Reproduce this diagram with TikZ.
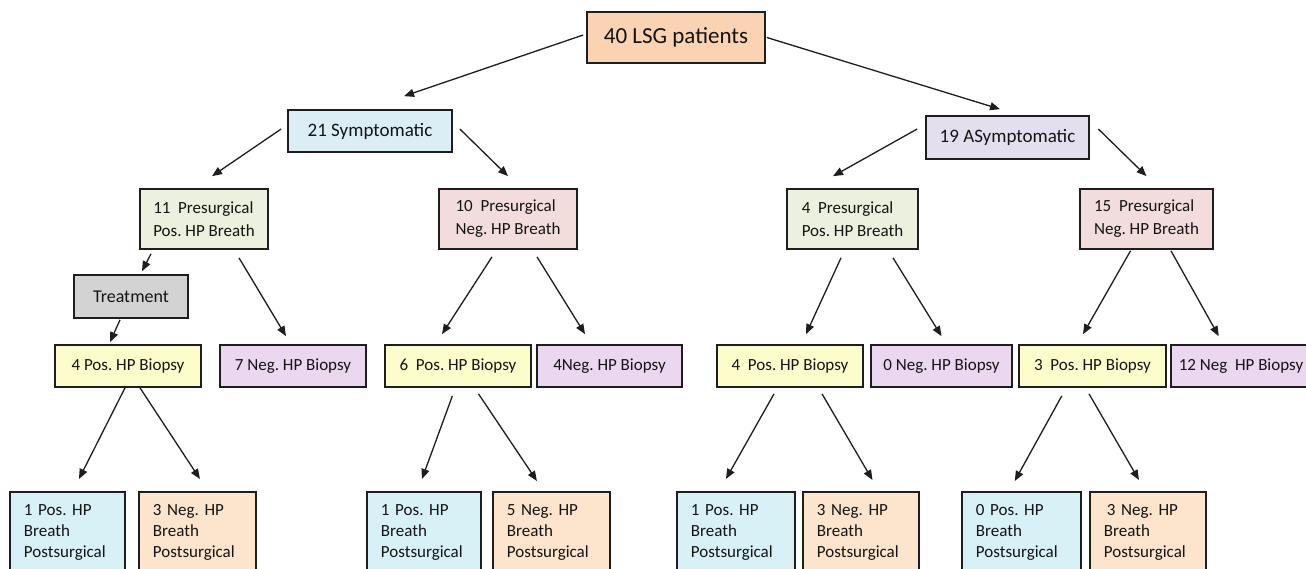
\documentclass[tikz,border=0pt]{standalone}
\usepackage{fontspec}
\setmainfont{Carlito}
\usetikzlibrary{arrows.meta,calc}
\definecolor{cRoot}{HTML}{FAD3B2}
\definecolor{cSym}{HTML}{DCEEF5}
\definecolor{cAsym}{HTML}{E4DFEE}
\definecolor{cPpos}{HTML}{EBF1DE}
\definecolor{cPneg}{HTML}{F2DCDC}
\definecolor{cTreat}{HTML}{D3D3D3}
\definecolor{cBpos}{HTML}{FDFCCB}
\definecolor{cBneg}{HTML}{EBD7EF}
\definecolor{cOpos}{HTML}{D8F1F7}
\definecolor{cOneg}{HTML}{FCE4CD}
\definecolor{cLine}{HTML}{1E1E1E}
\begin{document}
\frenchspacing
\begin{tikzpicture}[x=1pt,y=-1pt,
  box/.style={draw=cLine, line width=1.7pt, inner sep=0pt, text=black!92},
  pbox/.style={box, minimum height=60pt, align=left, font=\fontsize{17}{23}\selectfont},
  bbox/.style={box, minimum height=42pt, font=\fontsize{17}{20}\selectfont},
  obox/.style={box, line width=1.9pt, anchor=north west, align=left, inner xsep=14pt, inner ysep=13pt, text depth=60pt, font=\fontsize{17}{21}\selectfont},
  arr/.style={draw=cLine, line width=1.3pt, -{Triangle[length=10pt,width=8pt]}}]
\useasboundingbox (0,0) rectangle (1306,568);
\clip (0,0) rectangle (1306,568);
\fill[white] (0,0) rectangle (1306,568);

% level 0
\node[box, fill=cRoot, minimum width=178pt, minimum height=51pt, font=\fontsize{23}{27}\selectfont] (root) at (676,37.5) {40 LSG patients};
% level 1
\node[box, fill=cSym, minimum width=164pt, minimum height=42pt, font=\fontsize{19}{22}\selectfont] (sym) at (370,131) {21 Symptomatic\hspace{8pt}};
\node[box, fill=cAsym, minimum width=163pt, minimum height=43pt, font=\fontsize{19}{22}\selectfont] (asym) at (1007.5,137.5) {19 ASymptomatic};
% level 2
\node[pbox, fill=cPpos, minimum width=128pt] (p11) at (204,219) {11\ \ Presurgical\\Pos. HP Breath};
\node[pbox, fill=cPneg, minimum width=138pt] (p10) at (508,219) {10\ \ Presurgical\\Neg. HP Breath};
\node[pbox, fill=cPpos, minimum width=131pt] (p4) at (852.5,219) {4\ \ Presurgical\\Pos. HP Breath};
\node[pbox, fill=cPneg, minimum width=133pt] (p15) at (1146.5,219) {15\ \ Presurgical\\Neg. HP Breath};
% treatment
\node[box, fill=cTreat, minimum width=114pt, minimum height=43pt, font=\fontsize{18}{21}\selectfont] (treat) at (131,296.5) {Treatment};
% level 3
\node[bbox, fill=cBpos, minimum width=146pt] (b4p) at (128,366) {4 Pos. HP Biopsy};
\node[bbox, fill=cBneg, minimum width=146pt] (b7n) at (293,366) {7 Neg. HP Biopsy};
\node[bbox, fill=cBpos, minimum width=146pt] (b6p) at (458,366) {6\ \ Pos. HP Biopsy};
\node[bbox, fill=cBneg, minimum width=145pt] (b4n) at (609.5,366) {4Neg. HP Biopsy};
\node[bbox, fill=cBpos, minimum width=146pt] (b4pp) at (790,366) {4\ \ Pos. HP Biopsy};
\node[bbox, fill=cBneg, minimum width=141pt] (b0n) at (941.5,366) {0 Neg. HP Biopsy};
\node[bbox, fill=cBpos, minimum width=147pt] (b3p) at (1092.5,366) {3\ \ Pos. HP Biopsy};
\node[bbox, fill=cBneg, minimum width=140pt] (b12n) at (1241,366) {12 Neg\ \ HP Biopsy};
% level 4
\node[obox, fill=cOpos, text width=87pt] (o1p) at (9,491) {1 Pos. HP\\Breath\\Postsurgical};
\node[obox, fill=cOneg, text width=89pt] (o1n) at (138,491) {3 Neg. HP\\Breath\\Postsurgical};
\node[obox, fill=cOpos, text width=86pt] (o2p) at (366,491) {1 Pos. HP\\Breath\\Postsurgical};
\node[obox, fill=cOneg, text width=89pt] (o2n) at (492,491) {5 Neg. HP\\Breath\\Postsurgical};
\node[obox, fill=cOpos, text width=90pt] (o3p) at (676,491) {1 Pos. HP\\Breath\\Postsurgical};
\node[obox, fill=cOneg, text width=88pt] (o3n) at (802,491) {3 Neg. HP\\Breath\\Postsurgical};
\node[obox, fill=cOpos, text width=91pt] (o4p) at (961,491) {0 Pos. HP\\Breath\\Postsurgical};
\node[obox, fill=cOneg, text width=88pt] (o4n) at (1089,491) {\hspace{3pt}3 Neg. HP\\Breath\\Postsurgical};

% connectors
\draw[arr] ($(root.west)+(-3,-2.5)$) -- ($(sym.north)+(34,-13)$);
\draw[arr] ($(root.east)+(1,0)$) -- ($(asym.north)+(-7.5,-6)$);
\draw[arr] ($(sym.west)+(-6,-2)$) -- ($(p11.north)+(8,-12)$);
\draw[arr] ($(sym.east)+(7,-2)$) -- ($(p10.north)+(0,-12)$);
\draw[arr] ($(asym.west)+(-8,-8.5)$) -- ($(p4.north)+(-19.5,-12)$);
\draw[arr] ($(asym.east)+(8.5,-8.5)$) -- ($(p15.north)+(0,-12)$);
\draw[arr] ($(p11.south)+(-53,4)$) -- ($(treat.north)+(11,-3)$);
\draw[arr] ($(p11.south)+(35,8)$) -- ($(b7n.north)+(-7,-8)$);
\draw[arr] ($(treat.south)+(-11,1)$) -- ($(b4p.north)+(-18,-2)$);
\draw[arr] ($(p10.south)+(-16,7)$) -- ($(b6p.north)+(-16,-10)$);
\draw[arr] ($(p10.south)+(29,7)$) -- ($(b4n.north)+(-24.5,-10)$);
\draw[arr] ($(p4.south)+(-11.5,8)$) -- ($(b4pp.north)+(16,-10)$);
\draw[arr] ($(p4.south)+(40.5,8)$) -- ($(b0n.north)+(0,-8)$);
\draw[arr] ($(p15.south)+(-16,1)$) -- ($(b3p.north)+(-9.5,-10)$);
\draw[arr] ($(p15.south)+(24.5,1)$) -- ($(b12n.north west)+(48.6,-8)$);
\draw[arr] ($(b4p.south)+(-3,0)$) -- ($(o1p.north)+(11.5,-12)$);
\draw[arr] ($(b4p.south)+(12,0)$) -- ($(o1n.north)+(2.5,-12)$);
\draw[arr] ($(b6p.south)+(-5.6,8)$) -- ($(o2p.north)+(-2,-12)$);
\draw[arr] ($(b6p.south)+(20.5,6)$) -- ($(o2n.north)+(-14.5,-10)$);
\draw[arr] ($(b4pp.south)+(-16,6)$) -- ($(o3p.north)+(-10,-12)$);
\draw[arr] ($(b4pp.south)+(32,6)$) -- ($(o3n.north)+(11.5,-11)$);
\draw[arr] ($(b3p.south)+(-30.7,8)$) -- ($(o4p.north)+(-6.7,-10)$);
\draw[arr] ($(b3p.south)+(-3.5,6)$) -- ($(o4n.north)+(-9,-11)$);
\end{tikzpicture}
\end{document}
